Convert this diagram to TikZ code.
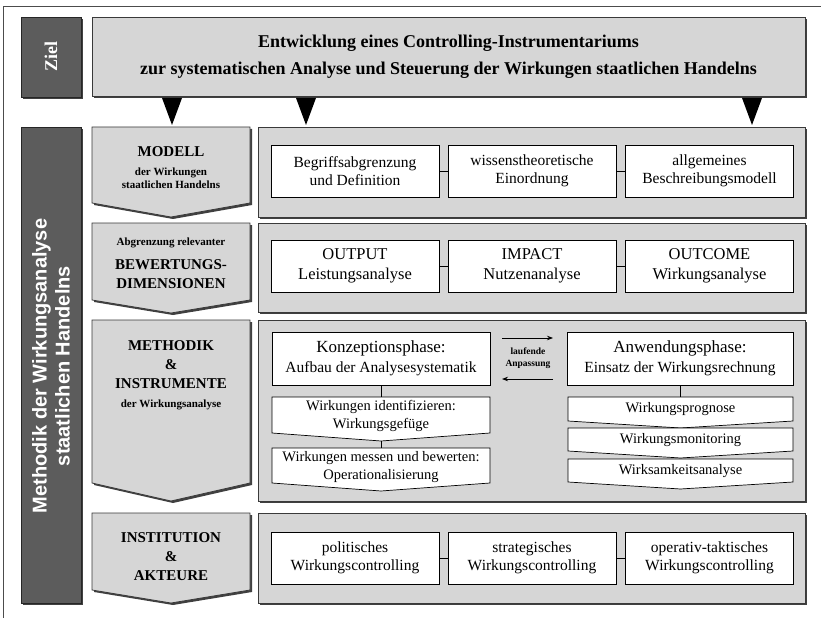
\documentclass[tikz,border=0pt]{standalone}
\usepackage{fontspec}
\setmainfont{Liberation Serif}
\newfontfamily\barfont{Liberation Sans}
\usetikzlibrary{shadows,arrows.meta}
\definecolor{panelgray}{HTML}{D6D6D6}
\definecolor{bargray}{HTML}{5C5C5C}
\definecolor{edgegray}{HTML}{3A3A3A}
\tikzset{
  shadeoff/.style={drop shadow={shadow xshift=2bp,shadow yshift=-2bp,fill=black!75,opacity=1}},
  panel/.style={draw=edgegray, line width=0.8bp, fill=panelgray, shadeoff},
  darkbar/.style={draw=black!85, line width=0.8bp, fill=bargray, shadeoff},
  ibox/.style={draw=black, line width=0.7bp, fill=white, minimum width=168bp, minimum height=52bp,
    inner sep=0pt, align=center, font=\fontsize{15.5bp}{18.5bp}\selectfont},
  pent/.style={draw=black, line width=0.7bp, fill=white},
  ptext/.style={align=center, inner sep=0pt, font=\fontsize{14.5bp}{17.5bp}\selectfont},
  bigtxt/.style={align=center, inner sep=0pt, font=\bfseries\fontsize{15bp}{19bp}\selectfont},
  smalltxt/.style={align=center, inner sep=0pt, font=\bfseries\fontsize{11bp}{13bp}\selectfont},
  link/.style={draw=black, line width=0.7bp},
  tri/.style={fill=black},
  flow/.style={draw=black, line width=0.8bp, -{Stealth[length=6bp,width=4.5bp]}}
}
\begin{document}
\begin{tikzpicture}[x=1bp,y=-1bp]
\useasboundingbox (0,0) rectangle (821,618);
\fill[white] (0,0) rectangle (821,618);
\draw[black!70, line width=0.8bp] (3,618) -- (3,6) -- (821,6);

% --- Ziel row ---
\path[darkbar] (21,17) rectangle (81,97);
\node[rotate=90, text=white, font=\bfseries\fontsize{18bp}{20bp}\selectfont] (ziel) at (51,57) {Ziel};
\path[panel] (92,17) rectangle (805,96);
\node[align=center, font=\bfseries\fontsize{18bp}{27bp}\selectfont] (goal) at (448.5,56.5)
  {Entwicklung eines Controlling-Instrumentariums\\zur systematischen Analyse und Steuerung der Wirkungen staatlichen Handelns};

% triangles
\fill[tri] (162,98) -- (182,98) -- (172,125) -- cycle;
\fill[tri] (296,98) -- (316,98) -- (306,125) -- cycle;
\fill[tri] (742,98) -- (762,98) -- (752,125) -- cycle;

% --- vertical bar ---
\path[darkbar] (21,127) rectangle (81,603);
\node[rotate=90, text=white, align=center, font=\barfont\bfseries\fontsize{20bp}{23bp}\selectfont] (method) at (51,366)
  {Methodik der Wirkungsanalyse\\staatlichen Handelns};

% --- left chevrons ---
\path[panel] (92,127) -- (250,127) -- (250,203) -- (171,217) -- (92,203) -- cycle;
\path[panel] (92,223) -- (250,223) -- (250,300) -- (171,313) -- (92,300) -- cycle;
\path[panel] (92,320) -- (250,320) -- (250,483) -- (171,501) -- (92,483) -- cycle;
\path[panel] (92,513) -- (250,513) -- (250,590) -- (171,603) -- (92,590) -- cycle;

\node[bigtxt] (modell) at (171,152) {MODELL};
\node[smalltxt] (modsub) at (171,178.5) {der Wirkungen\\staatlichen Handelns};
\node[smalltxt] (bewsub) at (171,243) {Abgrenzung relevanter};
\node[bigtxt] (bew) at (171,274) {BEWERTUNGS-\\DIMENSIONEN};
\node[bigtxt] (meth) at (171,365) {METHODIK\\\&\\INSTRUMENTE};
\node[smalltxt] (methsub) at (171,405) {der Wirkungsanalyse};
\node[bigtxt] (inst) at (171,557) {INSTITUTION\\\&\\AKTEURE};

% --- right panels ---
\path[panel] (258,127) rectangle (805,217);
\path[panel] (258,223) rectangle (805,312);
\path[panel] (258,320) rectangle (805,501);
\path[panel] (258,513) rectangle (805,603);

% row 1
\node[ibox] (b11) at (355,171) {Begriffsabgrenzung\\und Definition};
\node[ibox] (b12) at (532,171) {wissenstheoretische\\Einordnung};
\node[ibox] (b13) at (709.5,171) {allgemeines\\Beschreibungsmodell};
\draw[link] (b11.east) -- (b12.west);
\draw[link] (b12.east) -- (b13.west);

% row 2
\node[ibox, font=\fontsize{16.5bp}{19.5bp}\selectfont] (b21) at (355,266) {OUTPUT\\Leistungsanalyse};
\node[ibox, font=\fontsize{16.5bp}{19.5bp}\selectfont] (b22) at (532,266) {IMPACT\\Nutzenanalyse};
\node[ibox, font=\fontsize{16.5bp}{19.5bp}\selectfont] (b23) at (709.5,266) {OUTCOME\\Wirkungsanalyse};
\draw[link] (b21.east) -- (b22.west);
\draw[link] (b22.east) -- (b23.west);

% row 3
\node[ibox, minimum width=218bp, minimum height=53bp] (konz) at (381,358.5)
  {{\fontsize{17bp}{20bp}\selectfont Konzeptionsphase:}\\[1bp]Aufbau der Analysesystematik};
\node[ibox, minimum width=226bp, minimum height=53bp] (anw) at (680,358.5)
  {{\fontsize{17bp}{20bp}\selectfont Anwendungsphase:}\\[1bp]Einsatz der Wirkungsrechnung};

\coordinate (a1s) at (502,338); \coordinate (a1e) at (553,338);
\coordinate (a2s) at (553,379); \coordinate (a2e) at (502,379);
\draw[flow] (a1s) -- (a1e);
\draw[flow] (a2s) -- (a2e);
\node[smalltxt, font=\bfseries\fontsize{9.5bp}{12bp}\selectfont] (lauf) at (528,358.5) {laufende\\Anpassung};

% left stack
\path[pent] (272,397) -- (490,397) -- (490,433) -- (381,441) -- (272,433) -- cycle;
\coordinate (c1top) at (381,397); \coordinate (c1tip) at (381,441);
\node[ptext] (c1) at (381,416) {Wirkungen identifizieren:\\Wirkungsgefüge};
\path[pent] (272,448) -- (490,448) -- (490,483) -- (381,491) -- (272,483) -- cycle;
\coordinate (c2top) at (381,448);
\node[ptext] (c2) at (381,467) {Wirkungen messen und bewerten:\\Operationalisierung};
\draw[link] (konz.south) -- (c1top);
\draw[link] (c1tip) -- (c2top);

% right stack
\path[pent] (568,397) -- (793,397) -- (793,421) -- (680.5,428) -- (568,421) -- cycle;
\coordinate (ptop) at (680,397);
\node[ptext] (prog) at (680.5,409.5) {Wirkungsprognose};
\path[pent] (568,428) -- (793,428) -- (793,451) -- (680.5,458) -- (568,451) -- cycle;
\node[ptext] (moni) at (680.5,440) {Wirkungsmonitoring};
\path[pent] (568,459) -- (793,459) -- (793,482) -- (680.5,489) -- (568,482) -- cycle;
\node[ptext] (wirks) at (680.5,471) {Wirksamkeitsanalyse};
\draw[link] (anw.south) -- (ptop);

% row 4
\node[ibox] (b41) at (355,558) {politisches\\Wirkungscontrolling};
\node[ibox] (b42) at (532,558) {strategisches\\Wirkungscontrolling};
\node[ibox] (b43) at (709.5,558) {operativ-taktisches\\Wirkungscontrolling};
\draw[link] (b41.east) -- (b42.west);
\draw[link] (b42.east) -- (b43.west);
\end{tikzpicture}
\end{document}
